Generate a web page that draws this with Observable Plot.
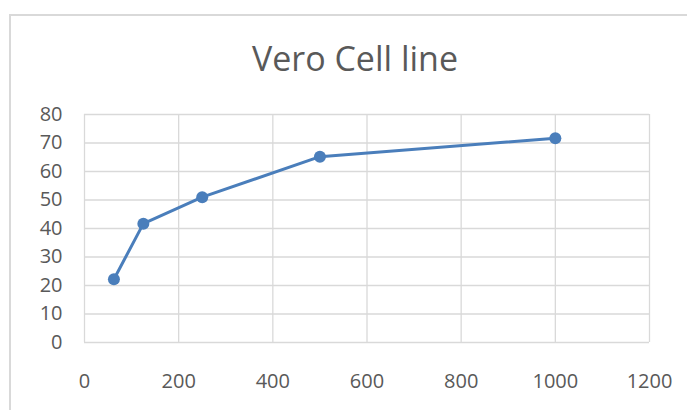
<!DOCTYPE html>
<html>
<head>
<meta charset="utf-8">
<script src="https://cdn.jsdelivr.net/npm/d3@7"></script>
<script src="https://cdn.jsdelivr.net/npm/@observablehq/plot@0.6"></script>
<style>
  body { margin: 0; background: #fff; }
  #wrap { position: relative; width: 687px; height: 410px; overflow: hidden; background: #fff; }
  #border { position: absolute; left: 9px; top: 14px; width: 700px; height: 420px; border: 2px solid #d9d9d9; box-sizing: border-box; }
  #title { position: absolute; left: 0; width: 710px; top: 36px; text-align: center;
           font-family: "Open Sans", sans-serif; font-size: 34px; color: #595959; line-height: 44px; }
  #chart { position: absolute; left: 0; top: 0; }
</style>
</head>
<body>
<div id="wrap">
  <div id="border"></div>
  <div id="title">Vero Cell line</div>
  <div id="chart"></div>
</div>
<script>
const concentrations = [62.5, 125, 250, 500, 1000];
const viability = [22.2, 41.7, 51.0, 65.2, 71.7];
const xTicks = [0, 200, 400, 600, 800, 1000, 1200];
const yTicks = [0, 10, 20, 30, 40, 50, 60, 70, 80];

const data = concentrations.map((c, i) => ({x: c, y: viability[i]}));
const blue = "#4a7ebb";

const plot = Plot.plot({
  width: 687,
  height: 410,
  marginLeft: 84,
  marginRight: 38,
  marginTop: 114,
  marginBottom: 68,
  style: {fontFamily: "'Open Sans', sans-serif", fontSize: "20px", color: "#595959", background: "transparent"},
  x: {domain: [0, 1200], ticks: xTicks},
  y: {domain: [0, 80], ticks: yTicks},
  marks: [
    Plot.ruleX(xTicks, {stroke: "#d9d9d9", strokeWidth: 1.3, strokeOpacity: 1}),
    Plot.ruleY(yTicks, {stroke: "#d9d9d9", strokeWidth: 1.3, strokeOpacity: 1}),
    Plot.axisX({ticks: xTicks, tickFormat: d => String(d), tickSize: 0, tickPadding: 31, label: null, fill: "#595959"}),
    Plot.axisY({ticks: yTicks, tickFormat: d => String(d), tickSize: 0, tickPadding: 22, label: null, fill: "#595959"}),
    Plot.line(data, {x: "x", y: "y", stroke: blue, strokeWidth: 3}),
    Plot.dot(data, {x: "x", y: "y", fill: blue, r: 6})
  ]
});
document.getElementById("chart").appendChild(plot);
</script>
</body>
</html>
